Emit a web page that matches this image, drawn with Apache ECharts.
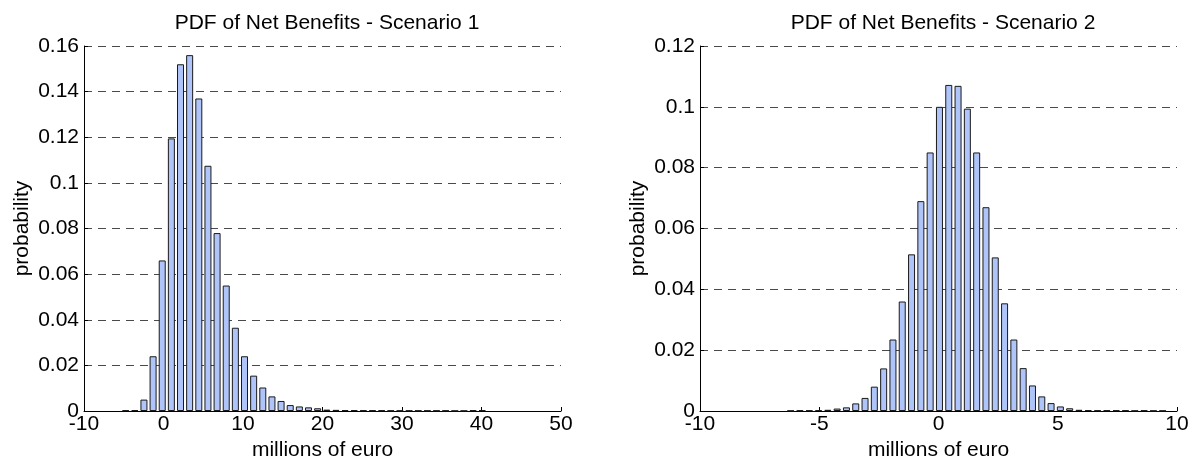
<!DOCTYPE html>
<html>
<head>
<meta charset="utf-8">
<script src="https://cdn.jsdelivr.net/npm/echarts@6/dist/echarts.min.js"></script>
<style>
  html, body { margin: 0; padding: 0; background: #fff; }
  #chart { width: 1190px; height: 460px; }
</style>
</head>
<body>
<div id="chart"></div>
<script>
// scenario 1 histogram: bin centres (millions of euro) and probabilities
var binsS1 = [-4.76, -3.61, -2.46, -1.31, -0.16, 0.99, 2.14, 3.29, 4.44, 5.59,
    6.74, 7.89, 9.04, 10.19, 11.34, 12.49, 13.64, 14.79, 15.94, 17.09,
    18.24, 19.39, 20.54, 21.69, 22.84, 23.99, 25.14, 26.29, 27.44, 28.59,
    29.74, 30.89, 32.04, 33.19, 34.34, 35.49, 36.64, 37.79, 38.94, 40.09];
var probS1 = [0.0003, 0.0004, 0.005, 0.024, 0.066, 0.1195, 0.152, 0.156, 0.137, 0.1075,
    0.078, 0.055, 0.0365, 0.024, 0.0155, 0.0103, 0.0064, 0.0044, 0.0026, 0.002,
    0.0016, 0.0012, 0.0006, 0.0005, 0.0004, 0.0004, 0.0003, 0.0003, 0.0003, 0.0002,
    0.0002, 0.0002, 0.0002, 0.0002, 0.0002, 0.0002, 0.0001, 0.0001, 0.0003, 0.0003];

// scenario 2 histogram
var binsS2 = [-6.20, -5.81, -5.42, -5.03, -4.64, -4.25, -3.86, -3.47, -3.08, -2.69,
    -2.30, -1.91, -1.52, -1.13, -0.74, -0.35, 0.04, 0.43, 0.82, 1.21,
    1.60, 1.99, 2.38, 2.77, 3.16, 3.55, 3.94, 4.33, 4.72, 5.11,
    5.50, 5.89, 6.28, 6.67, 7.06, 7.45, 7.84, 8.23, 8.62, 9.01, 9.40];
var probS2 = [0.0001, 0.0002, 0.0002, 0.0003, 0.0004, 0.0008, 0.0012, 0.0025, 0.0043, 0.008,
    0.014, 0.0235, 0.036, 0.0515, 0.069, 0.085, 0.100, 0.1072, 0.1069, 0.0994,
    0.085, 0.067, 0.0505, 0.0354, 0.0235, 0.0141, 0.0084, 0.0048, 0.0026, 0.0015,
    0.0009, 0.0004, 0.0003, 0.0002, 0.0002, 0.0002, 0.0002, 0.0001, 0.0002, 0.0001, 0.0001];

var titles = ['PDF of Net Benefits - Scenario 1', 'PDF of Net Benefits - Scenario 2'];
var xLabel = 'millions of euro';
var yLabel = 'probability';

var FONT = 'Liberation Sans, Arial, sans-serif';
var FS = 21;

function pairs(xs, ys) {
    return xs.map(function(x, i) { return [x, ys[i]]; });
}

function makeX(idx, min, max, step) {
    return {
        type: 'value', gridIndex: idx, min: min, max: max, interval: step,
        name: xLabel, nameLocation: 'middle', nameGap: 22,
        nameTextStyle: { color: '#000', fontSize: FS, fontFamily: FONT },
        axisLine: { show: true, onZero: false, lineStyle: { color: '#000', width: 1 } },
        axisTick: { show: true, inside: true, length: 4, lineStyle: { color: '#000' } },
        axisLabel: { color: '#000', fontSize: FS, fontFamily: FONT, margin: 3,
            showMinLabel: true, showMaxLabel: true, hideOverlap: false },
        splitLine: { show: false }
    };
}

function makeY(idx, max) {
    return {
        type: 'value', gridIndex: idx, min: 0, max: max, interval: 0.02,
        name: yLabel, nameLocation: 'middle', nameGap: 51, nameRotate: 90,
        nameTextStyle: { color: '#000', fontSize: FS, fontFamily: FONT },
        axisLine: { show: true, onZero: false, lineStyle: { color: '#000', width: 1 } },
        axisTick: { show: true, inside: true, length: 4, lineStyle: { color: '#000' } },
        axisLabel: { color: '#000', fontSize: FS, fontFamily: FONT, margin: 5,
            showMinLabel: true, showMaxLabel: true },
        splitLine: { show: true, lineStyle: { color: '#4a4a4a', type: [8, 6], width: 1 } }
    };
}

function makeBars(idx, data) {
    return {
        type: 'bar', xAxisIndex: idx, yAxisIndex: idx,
        data: data, barWidth: 7, silent: true, animation: false,
        itemStyle: { color: '#afc5f9', borderColor: '#1a1a1a', borderWidth: 1 }
    };
}

var myChart = echarts.init(document.getElementById('chart'), null, { renderer: 'canvas' });

var option = {
    animation: false,
    backgroundColor: '#fff',
    title: [{
        text: titles[0], left: 322, top: 8, textAlign: 'center',
        textStyle: { color: '#000', fontSize: FS, fontWeight: 'normal', fontFamily: FONT }
    }, {
        text: titles[1], left: 938, top: 8, textAlign: 'center',
        textStyle: { color: '#000', fontSize: FS, fontWeight: 'normal', fontFamily: FONT }
    }],
    grid: [
        { left: 84, right: 629, top: 46, bottom: 49, containLabel: false, outerBoundsMode: 'none' },
        { left: 700, right: 13, top: 46, bottom: 49, containLabel: false, outerBoundsMode: 'none' }
    ],
    xAxis: [makeX(0, -10, 50, 10), makeX(1, -10, 10, 5)],
    yAxis: [makeY(0, 0.16), makeY(1, 0.12)],
    series: [makeBars(0, pairs(binsS1, probS1)), makeBars(1, pairs(binsS2, probS2))]
};

myChart.setOption(option);
</script>
</body>
</html>
